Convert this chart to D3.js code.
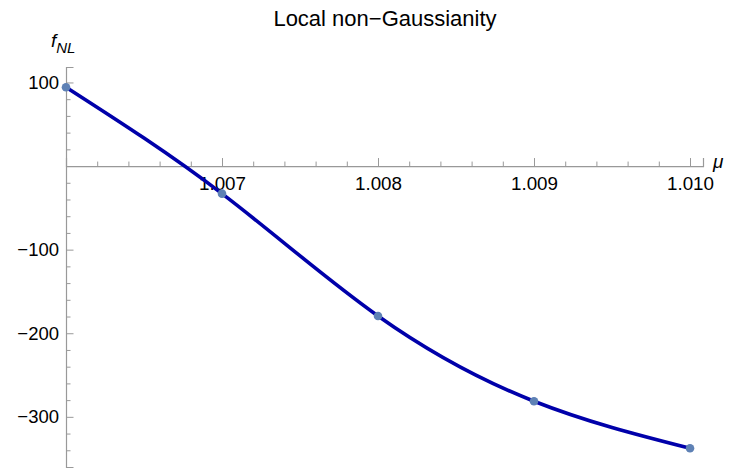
<!DOCTYPE html>
<html>
<head>
<meta charset="utf-8">
<script src="https://cdn.jsdelivr.net/npm/d3@7"></script>
<style>
  html, body { margin: 0; padding: 0; background: #fff; }
  svg { display: block; font-family: "Liberation Sans", Arial, sans-serif; }
</style>
</head>
<body>
<svg id="chart" width="737" height="470"></svg>
<script>
// Data
const muValues = [1.006, 1.007, 1.008, 1.009, 1.010];
const fNLValues = [94.3, -33, -179.3, -281.3, -337.6];
const xMajorTicks = [1.007, 1.008, 1.009, 1.010];
const yMajorTicks = [100, -100, -200, -300];
const titleText = "Local non\u2212Gaussianity";

const svg = d3.select("#chart");

const x = d3.scaleLinear().domain([1.006, 1.0100833]).range([66, 703]);
const y = d3.scaleLinear().domain([-360, 118.5]).range([467, 67]);

const axisColor = "#999999";
const fmtY = d => d < 0 ? "\u2212" + Math.abs(d) : String(d);
const fmtX = d => d3.format(".3f")(d);

const xMinor = d3.range(1, 21).map(i => 1.006 + i * 0.0002).filter(v => !xMajorTicks.some(m => Math.abs(m - v) < 1e-9));
const yMinor = d3.range(-18, 6).map(i => i * 20).filter(v => v !== 0 && !yMajorTicks.includes(v));

// X axis
const gx = svg.append("g").attr("transform", `translate(0,${y(0)})`);
gx.call(d3.axisBottom(x).tickValues(xMajorTicks).tickSize(-8).tickPadding(11).tickFormat(fmtX));
gx.append("g").call(d3.axisBottom(x).tickValues(xMinor).tickSize(-4.5).tickFormat(""))
  .select(".domain").remove();
gx.selectAll(".domain").attr("stroke", axisColor).attr("stroke-width", 1.2);
gx.selectAll(".tick line").attr("stroke", axisColor);
gx.selectAll(".tick text").attr("fill", "#000").style("font-size", "18.8px").style("font-family", "Liberation Sans, Arial, sans-serif");

// Y axis
const gy = svg.append("g").attr("transform", `translate(${x(1.006)},0)`);
gy.call(d3.axisLeft(y).tickValues(yMajorTicks).tickSize(-7.5).tickPadding(7).tickFormat(fmtY));
gy.append("g").call(d3.axisLeft(y).tickValues(yMinor).tickSize(-4.5).tickFormat(""))
  .select(".domain").remove();
gy.selectAll(".domain").attr("stroke", axisColor).attr("stroke-width", 1.2);
gy.selectAll(".tick line").attr("stroke", axisColor);
gy.selectAll(".tick text").attr("fill", "#000").style("font-size", "18.5px").style("font-family", "Liberation Sans, Arial, sans-serif");

// Curve
const pts = muValues.map((m, i) => [m, fNLValues[i]]);
const line = d3.line().x(d => x(d[0])).y(d => y(d[1])).curve(d3.curveNatural);
svg.append("path").datum(pts).attr("d", line)
  .attr("fill", "none").attr("stroke", "#0000aa").attr("stroke-width", 3.6);

// Points
svg.selectAll("circle.pt").data(pts).enter().append("circle")
  .attr("class", "pt")
  .attr("cx", d => x(d[0])).attr("cy", d => y(d[1])).attr("r", 4.3)
  .attr("fill", "#5e81b5");

// Title
svg.append("text").attr("x", 385).attr("y", 26).attr("text-anchor", "middle")
  .style("font-size", "22px").text(titleText);

// Axis labels
const fl = svg.append("text").attr("x", 51).attr("y", 47).style("font-size", "19px").style("font-style", "italic");
fl.append("tspan").text("f");
fl.append("tspan").attr("dy", 6).style("font-size", "15px").text("NL");

svg.append("text").attr("x", 713).attr("y", 168).style("font-size", "19px").style("font-style", "italic").text("\u03bc");
</script>
</body>
</html>
